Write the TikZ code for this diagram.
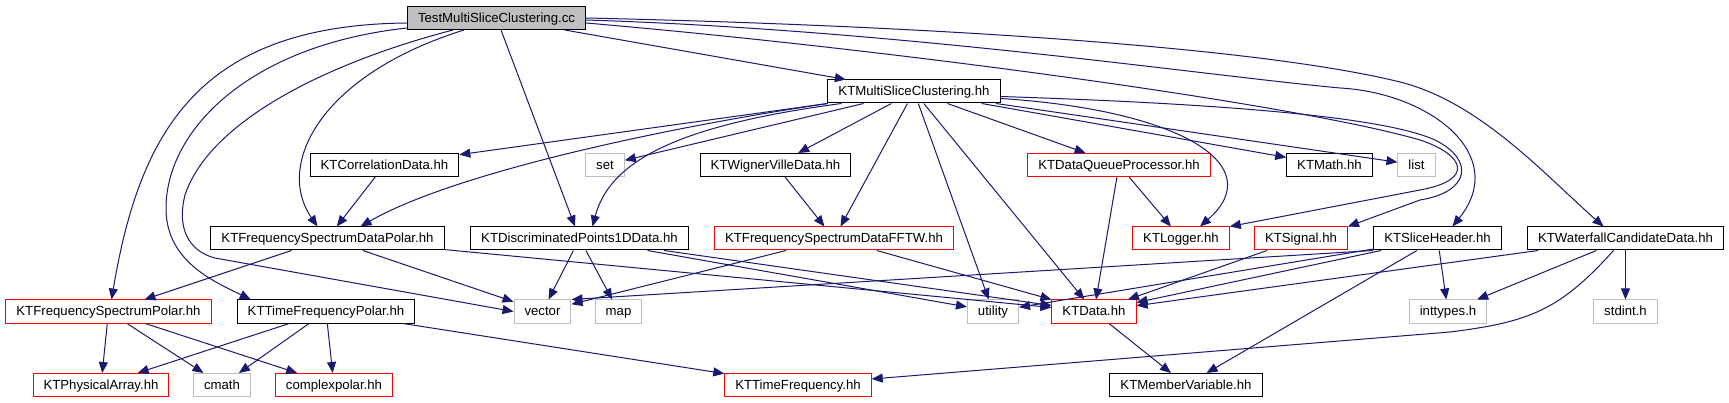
\documentclass[tikz,border=0pt]{standalone}
\usepackage{fontspec}
\setmainfont{Liberation Sans}
\usetikzlibrary{arrows.meta}
\definecolor{edgeblue}{RGB}{25,25,112}
\definecolor{sysgray}{RGB}{191,191,191}
\definecolor{cutred}{RGB}{255,0,0}
\tikzset{
  hdr/.style={draw=black, line width=1pt, fill=white, inner xsep=10.5pt, inner ysep=0pt,
    minimum height=23pt, text height=9.5pt, text depth=0.5pt, font=\fontsize{13.2}{15}\selectfont},
  syshdr/.style={hdr, draw=sysgray},
  cuthdr/.style={hdr, draw=cutred},
  srcfile/.style={hdr, fill=sysgray},
  dep/.style={draw=edgeblue, line width=1pt, -{Triangle[length=11pt,width=9pt]}}
}

\begin{document}
\begin{tikzpicture}[x=1pt, y=-1pt]
  \path[fill=white] (0,0) rectangle (1729,403);
  \node[srcfile] (tmsc) at (496.5,18) {TestMultiSliceClustering.cc};
  \node[hdr] (mscl) at (914,91.5) {KTMultiSliceClustering.hh};
  \node[hdr] (corr) at (384.5,165) {KTCorrelationData.hh};
  \node[syshdr] (set) at (605,165) {set};
  \node[hdr] (wvd) at (775.5,165) {KTWignerVilleData.hh};
  \node[cuthdr] (dqp) at (1119,165) {KTDataQueueProcessor.hh};
  \node[hdr] (math) at (1329.5,165) {KTMath.hh};
  \node[syshdr] (list) at (1416.5,165) {list};
  \node[hdr] (fsdp) at (327.5,238.5) {KTFrequencySpectrumDataPolar.hh};
  \node[hdr] (dp1d) at (579.5,238.5) {KTDiscriminatedPoints1DData.hh};
  \node[cuthdr] (fftw) at (834,238.5) {KTFrequencySpectrumDataFFTW.hh};
  \node[cuthdr] (logger) at (1181,238.5) {KTLogger.hh};
  \node[cuthdr] (signal) at (1301,238.5) {KTSignal.hh};
  \node[hdr] (slice) at (1437.5,238.5) {KTSliceHeader.hh};
  \node[hdr] (wcd) at (1625.5,238.5) {KTWaterfallCandidateData.hh};
  \node[cuthdr] (fsp) at (108.5,311.5) {KTFrequencySpectrumPolar.hh};
  \node[hdr] (tfp) at (326,311.5) {KTTimeFrequencyPolar.hh};
  \node[syshdr] (vector) at (542.5,311.5) {vector};
  \node[syshdr] (map) at (618.5,311.5) {map};
  \node[syshdr] (utility) at (993,311.5) {utility};
  \node[cuthdr] (data) at (1094,311.5) {KTData.hh};
  \node[syshdr] (inttypes) at (1448,311.5) {inttypes.h};
  \node[syshdr] (stdint) at (1625.5,311.5) {stdint.h};
  \node[cuthdr] (parray) at (101,385) {KTPhysicalArray.hh};
  \node[syshdr] (cmath) at (222,385) {cmath};
  \node[cuthdr] (cpolar) at (334,385) {complexpolar.hh};
  \node[cuthdr] (tfreq) at (798,385) {KTTimeFrequency.hh};
  \node[hdr] (membvar) at (1186,385) {KTMemberVariable.hh};

  \draw[dep] (tmsc) -- (mscl);
  \draw[dep] (tmsc) -- (dp1d);
  \draw[dep] ([yshift=-5pt]tmsc.west) .. controls (200,25) and (140,130) .. ([xshift=3pt]fsp.north);
  \draw[dep] ([yshift=-10pt]tmsc.west) .. controls (250,45) and (165,130) .. (166,210)
    .. controls (167,262) and (215,282) .. ([xshift=14pt]tfp.north west);
  \draw[dep] ([xshift=46pt]tmsc.south west) .. controls (330,62) and (210,120) .. (185,195)
    .. controls (175,235) and (195,253) .. (215,258) -- (vector.west);
  \draw[dep] ([xshift=57pt]tmsc.south west) .. controls (320,75) and (275,165) .. ([xshift=-10pt]fsdp.north);
  \draw[dep] (tmsc.east) .. controls (900,25) and (1250,45) .. (1400,82)
    .. controls (1480,102) and (1545,175) .. ([xshift=-22pt]wcd.north);
  \draw[dep] ([yshift=-2pt]tmsc.east) .. controls (900,30) and (1200,75) .. (1340,88)
    .. controls (1430,93) and (1510,155) .. ([xshift=15pt]slice.north);
  \draw[dep] ([yshift=-5pt]tmsc.east) .. controls (900,50) and (1300,105) .. (1420,140)
    .. controls (1465,155) and (1475,180) .. (1420,190) -- (logger.north east);

  \draw[dep] (mscl) -- (corr);
  \draw[dep] (mscl.south west) .. controls (650,130) and (450,175) .. ([xshift=33pt]fsdp.north);
  \draw[dep] (mscl) -- (set);
  \draw[dep] ([xshift=14pt]mscl.south west) .. controls (680,125) and (610,160) .. ([xshift=13pt]dp1d.north);
  \draw[dep] (mscl) -- (wvd);
  \draw[dep] (mscl) -- (fftw);
  \draw[dep] (mscl) -- (utility);
  \draw[dep] (mscl) -- (data);
  \draw[dep] (mscl) -- (dqp);
  \draw[dep] ([yshift=-7pt]mscl.east) .. controls (1180,110) and (1270,165) .. ([xshift=19pt]logger.north);
  \draw[dep] (mscl) -- (math);
  \draw[dep] (mscl) -- (list);
  \draw[dep] ([yshift=-5pt]mscl.east) .. controls (1200,103) and (1380,115) .. (1435,140)
    .. controls (1475,160) and (1470,192) .. (1420,200) -- (signal.north east);

  \draw[dep] (corr) -- (fsdp);
  \draw[dep] (wvd) -- (fftw);
  \draw[dep] (dqp) -- (data);
  \draw[dep] (dqp) -- (logger);
  \draw[dep] (fsdp) -- (fsp);
  \draw[dep] (fsdp) -- (vector);
  \draw[dep] (fsdp) -- (data);
  \draw[dep] (dp1d) -- (vector);
  \draw[dep] (dp1d) -- (map);
  \draw[dep] (dp1d) -- (utility);
  \draw[dep] (dp1d) -- (data);
  \draw[dep] (fftw) -- (vector);
  \draw[dep] (fftw) -- (data);
  \draw[dep] (signal) -- (data);
  \draw[dep] (slice.south west) -- (vector.north east);
  \draw[dep] (slice) -- (utility);
  \draw[dep] (slice) -- (data);
  \draw[dep] (slice) -- (inttypes);
  \draw[dep] (slice) -- (membvar);
  \draw[dep] (wcd) -- (data);
  \draw[dep] (wcd) -- (inttypes);
  \draw[dep] (wcd) -- (stdint);
  \draw[dep] ([xshift=-12pt]wcd.south) .. controls (1560,310) and (1530,322) .. (1450,332)
    -- ([yshift=6pt]tfreq.east);
  \draw[dep] (data) -- (membvar);
  \draw[dep] (fsp) -- (parray);
  \draw[dep] (fsp) -- (cmath);
  \draw[dep] (fsp) -- (cpolar);
  \draw[dep] (tfp) -- (parray);
  \draw[dep] (tfp) -- (cmath);
  \draw[dep] (tfp) -- (cpolar);
  \draw[dep] (tfp) -- (tfreq);
\end{tikzpicture}
\end{document}
